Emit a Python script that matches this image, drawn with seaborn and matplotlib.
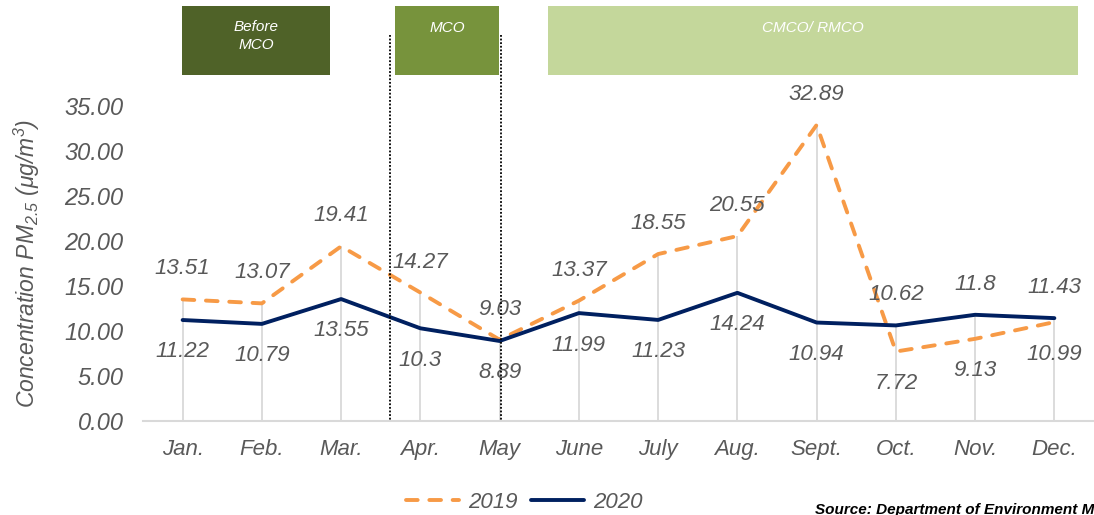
import numpy as np
import pandas as pd
import matplotlib
matplotlib.use("Agg")
import matplotlib.pyplot as plt
from matplotlib.patches import Rectangle
from matplotlib.lines import Line2D
import seaborn as sns

# --- data ---
months = ['Jan.', 'Feb.', 'Mar.', 'Apr.', 'May', 'June', 'July', 'Aug.', 'Sept.', 'Oct.', 'Nov.', 'Dec.']
pm_2019 = [13.51, 13.07, 19.41, 14.27, 9.03, 13.37, 18.55, 20.55, 32.89, 7.72, 9.13, 10.99]
pm_2020 = [11.22, 10.79, 13.55, 10.3, 8.89, 11.99, 11.23, 14.24, 10.94, 10.62, 11.8, 11.43]
years = ['2019', '2020']
y_ticks = [0, 5, 10, 15, 20, 25, 30, 35]

phases = ['Before\nMCO', 'MCO', 'CMCO/ RMCO']

# --- style ---
sns.set_style("white")
plt.rcParams['font.family'] = ['Liberation Sans', 'DejaVu Sans']
plt.rcParams['font.style'] = 'italic'
plt.rcParams['mathtext.fontset'] = 'custom'
plt.rcParams['mathtext.rm'] = 'Liberation Sans:italic'
plt.rcParams['mathtext.it'] = 'Liberation Sans:italic'

GREY = '#595959'
ORANGE = '#F79A46'
NAVY = '#002060'
W, H = 1094, 515

df = pd.DataFrame({
    'idx': list(range(len(months))) * 2,
    'pm': pm_2019 + pm_2020,
    'year': [years[0]] * len(months) + [years[1]] * len(months),
})

fig = plt.figure(figsize=(W / 100, H / 100), dpi=100)
ax = fig.add_axes([143 / W, 94 / H, (W - 143) / W, 315 / H])

# drop lines up to the higher value of each month
tops = np.maximum(pm_2019, pm_2020)
ax.vlines(np.arange(len(months)), 0, tops, color='#D9D9D9', lw=1.3, zorder=1)

sns.lineplot(data=df, x='idx', y='pm', hue='year', style='year', hue_order=years,
             palette={'2019': ORANGE, '2020': NAVY},
             dashes={'2019': (3, 3), '2020': ''}, lw=2.8, legend=False, ax=ax, zorder=3)
for ln in ax.lines:
    ln.set_dash_capstyle('round')
    ln.set_solid_capstyle('round')

# data labels: higher value above, lower value below
for i in range(len(months)):
    a, b = pm_2019[i], pm_2020[i]
    hi, lo = (a, b) if a >= b else (b, a)
    ax.annotate(f"{hi:g}", (i, hi), xytext=(0, 22), textcoords='offset points',
                ha='center', va='center', fontsize=16, color=GREY,
                annotation_clip=False)
    ax.annotate(f"{lo:g}", (i, lo), xytext=(0, -23), textcoords='offset points',
                ha='center', va='center', fontsize=16, color=GREY,
                annotation_clip=False)

ax.set_xlim(-0.5, len(months) - 0.5)
ax.set_ylim(0, 35)
ax.set_xticks(range(len(months)))
ax.set_xticklabels(months)
ax.set_yticks(y_ticks)
ax.set_yticklabels([f"{v:.2f}" for v in y_ticks])
ax.tick_params(axis='both', length=0, labelsize=16, labelcolor=GREY)
ax.tick_params(axis='y', labelsize=17, pad=14)
ax.tick_params(axis='x', pad=13)
ax.set_xlabel('')
ax.set_ylabel(r'Concentration PM$_{2.5}$ ($\mu$g/m$^{3}$)', fontsize=16.5, color=GREY)
ax.yaxis.set_label_coords(-0.106, 0.5)
sns.despine(ax=ax, left=True)
ax.spines['bottom'].set_color('#D9D9D9')
ax.spines['bottom'].set_linewidth(1.5)
ax.grid(False)

# phase boxes on top
box_specs = [(182, 330, '#4F6228'), (395, 499, '#77933C'), (548, 1078, '#C4D79B')]
for (x0, x1, col), name in zip(box_specs, phases):
    fig.add_artist(Rectangle((x0 / W, (H - 75) / H), (x1 - x0) / W, 69 / H,
                             transform=fig.transFigure, color=col, lw=0))
    ty = 36 if '\n' in name else 28
    fig.text((x0 + x1) / 2 / W, (H - ty) / H, name, ha='center', va='center',
             fontsize=11, color='white', linespacing=1.35)

# dotted separators
for xp in [390, 501]:
    fig.add_artist(Line2D([xp / W, xp / W], [(H - 35) / H, (H - 421) / H],
                          transform=fig.transFigure, color='black', lw=1.3,
                          linestyle=(0, (1, 1))))

# legend
handles = [Line2D([], [], color=ORANGE, lw=2.8, dashes=(3, 3), dash_capstyle='round'),
           Line2D([], [], color=NAVY, lw=2.8, solid_capstyle='round')]
leg = fig.legend(handles, years, loc='center', bbox_to_anchor=(524 / W, (H - 502) / H),
                 ncol=2, frameon=False, handlelength=2.4, handletextpad=0.4,
                 columnspacing=0.6, prop={'size': 16, 'style': 'italic'})
for t in leg.get_texts():
    t.set_color(GREY)

fig.text(815 / W, (H - 503) / H, 'Source: Department of Environment Malaysia',
         ha='left', va='top', fontsize=11, weight='bold', color='black')

fig.savefig('out.png', dpi=100)
